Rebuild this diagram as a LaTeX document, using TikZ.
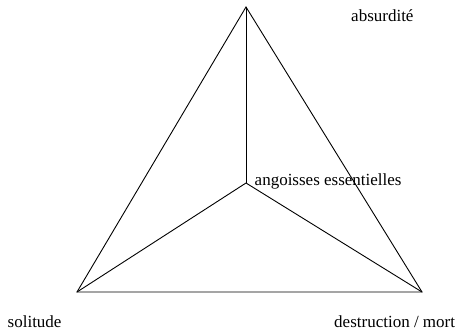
\documentclass[tikz,border=0pt]{standalone}
\usepackage{fontspec}
\setmainfont{Liberation Serif}
\begin{document}
\begin{tikzpicture}[x=1pt,y=-1pt,
  edge/.style={draw=black,line width=0.9pt},
  lbl/.style={anchor=base west,inner sep=0pt,font=\fontsize{17}{20}\selectfont}]
\useasboundingbox (0,0) rectangle (460,334);
\coordinate (T) at (246,7);
\coordinate (C) at (246,183);
\coordinate (BL) at (77,292);
\coordinate (BR) at (422,292);
\draw[edge,line join=miter] (T) -- (BL) -- (BR) -- cycle;
\draw[edge] (C) -- (T);
\draw[edge] (C) -- (BL);
\draw[edge] (C) -- (BR);
\node[lbl] (abs) at (351,21.5) {absurdité};
\node[lbl] (ang) at (254.5,185) {angoisses essentielles};
\node[lbl] (sol) at (7.5,327) {solitude};
\node[lbl] (des) at (334,327) {destruction / mort};
\end{tikzpicture}
\end{document}
